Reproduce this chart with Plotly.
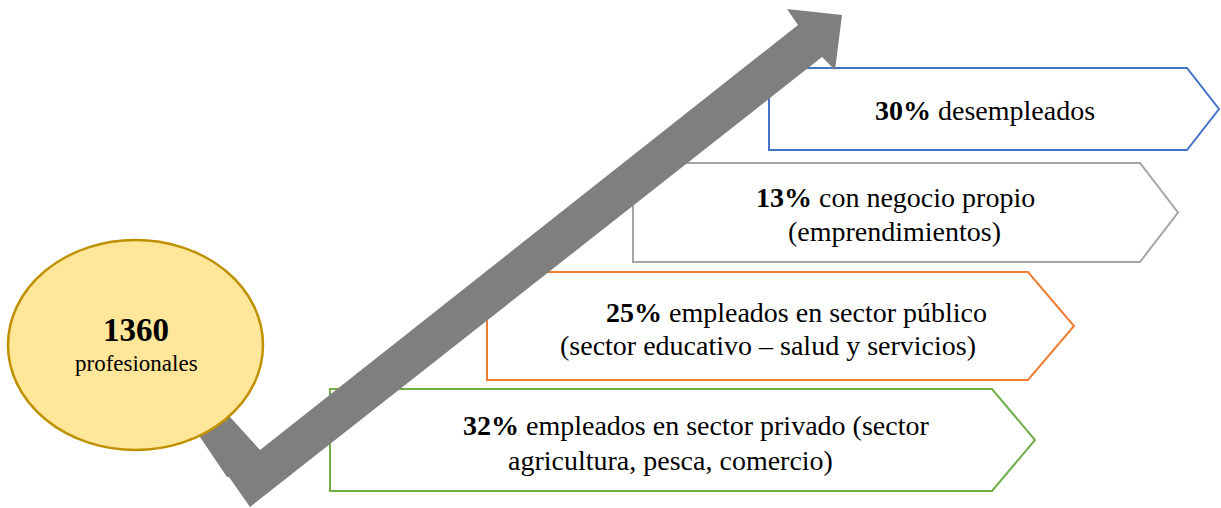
import plotly.graph_objects as go

# data
total = 1360
total_label = "profesionales"
percentages = [30, 13, 25, 32]
line1_text = ["desempleados", "con negocio propio", "empleados en sector público",
              "empleados en sector privado (sector"]
line2_text = ["", "(emprendimientos)", "(sector educativo – salud y servicios)",
              "agricultura, pesca, comercio)"]

# layout of the diagram (pixel space, y downwards)
box_colors = ["#4472C4", "#A5A5A5", "#ED7D31", "#70AD47"]
box_left = [769, 633, 487, 330]
box_right = [1187, 1140, 1028, 992]
box_tip = [1219, 1178, 1074, 1035]
box_top = [68, 163, 272, 389]
box_bottom = [150, 262, 380, 491]
text_x1 = [985, 895, 796, 696]
text_x2 = [985, 894, 768, 670]
text_y1 = [110, 197, 312, 425]
text_y2 = [110, 231, 345, 460]

arrow_x = [173, 227, 229, 250, 822, 835, 842, 787, 798, 260, 200]
arrow_y = [397, 477, 477, 507, 57, 70, 15, 9, 25, 450, 384]

FONT = "Liberation Serif"
W, H = 1221, 508

fig = go.Figure()
fig.add_trace(go.Scatter(x=[0, W], y=[0, H], mode="markers",
                         marker=dict(opacity=0), hoverinfo="skip", showlegend=False))

shapes = []
for i in range(len(percentages)):
    mid = (box_top[i] + box_bottom[i]) / 2
    path = (f"M {box_left[i]},{box_top[i]} L {box_right[i]},{box_top[i]} "
            f"L {box_tip[i]},{mid} L {box_right[i]},{box_bottom[i]} "
            f"L {box_left[i]},{box_bottom[i]} Z")
    shapes.append(dict(type="path", path=path, xref="x", yref="y",
                       fillcolor="white", line=dict(color=box_colors[i], width=2)))

arrow_path = "M " + " L ".join(f"{x},{y}" for x, y in zip(arrow_x, arrow_y)) + " Z"
shapes.append(dict(type="path", path=arrow_path, xref="x", yref="y",
                   fillcolor="#7F7F7F", line=dict(width=0)))

shapes.append(dict(type="circle", xref="x", yref="y", x0=8, x1=263, y0=240, y1=450,
                   fillcolor="#FFE699", line=dict(color="#BF9000", width=2.5)))

annotations = [
    dict(x=136, y=330, text=f"<b>{total}</b>", font=dict(size=33)),
    dict(x=136, y=363, text=total_label, font=dict(size=23)),
]
for i, p in enumerate(percentages):
    annotations.append(dict(x=text_x1[i], y=text_y1[i],
                            text=f"<b>{p}%</b> {line1_text[i]}", font=dict(size=28)))
    if line2_text[i]:
        annotations.append(dict(x=text_x2[i], y=text_y2[i],
                                text=line2_text[i], font=dict(size=28)))
for a in annotations:
    a.update(xref="x", yref="y", showarrow=False, xanchor="center", yanchor="middle")
    a["font"].update(family=FONT, color="black")

fig.update_layout(
    width=W, height=H,
    margin=dict(l=0, r=0, t=0, b=0),
    plot_bgcolor="white", paper_bgcolor="white",
    shapes=shapes, annotations=annotations,
    xaxis=dict(range=[0, W], visible=False, fixedrange=True),
    yaxis=dict(range=[H, 0], visible=False, fixedrange=True),
    showlegend=False,
)

fig.write_html("out.html", config={"displayModeBar": False},
               post_script="document.body.style.margin='0';")
